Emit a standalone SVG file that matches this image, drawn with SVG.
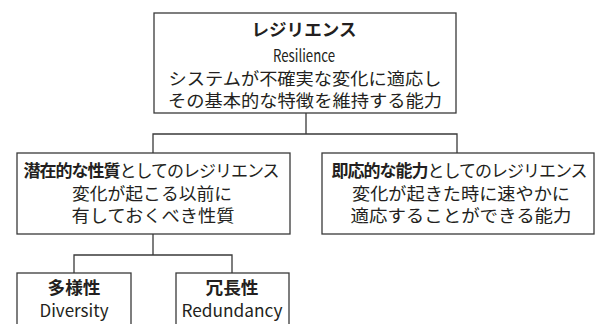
<svg xmlns="http://www.w3.org/2000/svg" width="595" height="324" viewBox="0 0 595 324">
<style>
.box{fill:#fff;stroke:#3a3a3a;stroke-width:1.3}
.ln{fill:none;stroke:#3a3a3a;stroke-width:1.3}
text{font-family:"Noto Sans CJK JP","Noto Sans",sans-serif;font-size:17px;fill:#231f20;text-anchor:middle}
.b{font-weight:bold}
.lat{font-size:17px}
.tight{letter-spacing:-1px}
</style>
<rect width="595" height="324" fill="#fff"/>
<g id="connectors">
<path class="ln" d="M306,113V134M153,153V134H457V153"/>
<path class="ln" d="M153,234V255M74,273V255H232V273"/>
</g>
<g id="resilience">
<rect class="box" x="154" y="13" width="302" height="100"/>
<text class="b" x="304" y="36" textLength="105" lengthAdjust="spacingAndGlyphs">レジリエンス</text>
<text class="lat" x="304" y="62" textLength="62" lengthAdjust="spacingAndGlyphs">Resilience</text>
<text x="305" y="85" textLength="273" lengthAdjust="spacingAndGlyphs">システムが不確実な変化に適応し</text>
<text x="305" y="107" textLength="274" lengthAdjust="spacingAndGlyphs">その基本的な特徴を維持する能力</text>
</g>
<g id="latent">
<rect class="box" x="17" y="153" width="273" height="81"/>
<text class="tight" x="151" y="177"><tspan class="b">潜在的な性質</tspan>としてのレジリエンス</text>
<text x="152" y="200" textLength="160" lengthAdjust="spacingAndGlyphs">変化が起こる以前に</text>
<text x="153" y="222" textLength="163" lengthAdjust="spacingAndGlyphs">有しておくべき性質</text>
</g>
<g id="immediate">
<rect class="box" x="322" y="153" width="272" height="81"/>
<text class="tight" x="459" y="177"><tspan class="b">即応的な能力</tspan>としてのレジリエンス</text>
<text x="461" y="200" textLength="218" lengthAdjust="spacingAndGlyphs">変化が起きた時に速やかに</text>
<text x="461" y="222" textLength="221" lengthAdjust="spacingAndGlyphs">適応することができる能力</text>
</g>
<g id="diversity">
<rect class="box" x="17" y="273" width="114" height="70"/>
<text class="b" x="74" y="294" textLength="53" lengthAdjust="spacingAndGlyphs">多様性</text>
<text class="lat" x="74" y="317" textLength="69" lengthAdjust="spacingAndGlyphs">Diversity</text>
</g>
<g id="redundancy">
<rect class="box" x="176" y="273" width="113" height="70"/>
<text class="b" x="232" y="294" textLength="53" lengthAdjust="spacingAndGlyphs">冗長性</text>
<text class="lat" x="232" y="317" textLength="101" lengthAdjust="spacingAndGlyphs">Redundancy</text>
</g>
</svg>
